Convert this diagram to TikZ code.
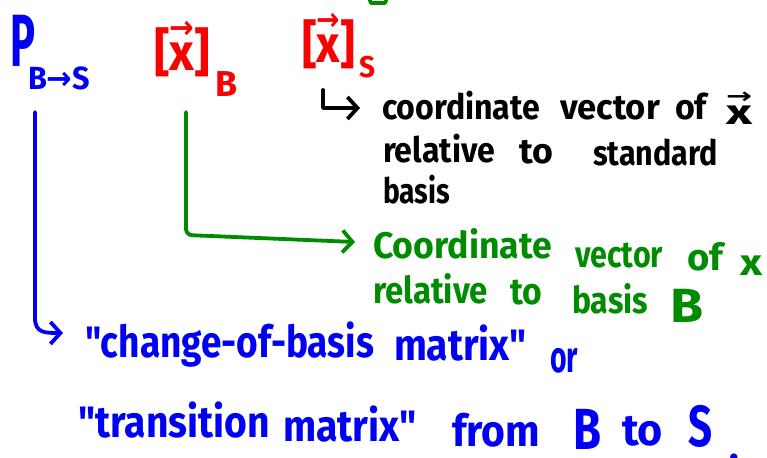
\documentclass[tikz,border=0pt]{standalone}
\usepackage{fontspec}
\newfontfamily\ink{Fira Sans}
\newfontfamily\symfont{DejaVu Sans}
\usepackage{graphicx}
\usetikzlibrary{arrows.meta}
\definecolor{pblue}{RGB}{0,0,245}
\definecolor{pred}{RGB}{250,0,0}
\definecolor{pgreen}{RGB}{0,140,0}
\newsavebox\xbox
\newcommand{\vx}{\sbox\xbox{x}\rlap{\raisebox{0.62em}{\resizebox{\wd\xbox}{!}{\symfont\bfseries →}}}\usebox\xbox}
\newcommand{\fitto}[2]{\resizebox{#1pt}{\height}{#2}}
\newcommand{\dq}{\symbol{34}}
% \word{name}{style}{size}{x,y}{width}{text}
\newcommand{\word}[6]{\node[txt,#2,font=\ink\bfseries\fontsize{#3}{#3}\selectfont] (#1) at (#4) {\fitto{#5}{#6}};}
\begin{document}
\begin{tikzpicture}[x=1pt,y=-1pt,
  txt/.style={anchor=base west,inner sep=0pt,outer sep=0pt},
  blueink/.style={text=pblue},
  redink/.style={text=pred},
  greenink/.style={text=pgreen},
  blackink/.style={text=black},
  pen/.style={line width=3.8pt,line cap=round,line join=round},
  barb/.style={-{Straight Barb[length=10pt,width=22pt]}}]
\fill[white] (0,0) rectangle (767,457);
\useasboundingbox (0,0) rectangle (767,457);

% fragment of green writing at the top edge
\draw[pen,pgreen] (369,-2) -- (371,3) -- (385,3) -- (387,-2);

% blue P_{B->S}
\word{P}{blueink}{74}{10,67}{25}{P}
\word{Psub}{blueink}{32}{28,90}{62}{B{\symfont\bfseries →}S}

% red coordinate vectors
\word{xB}{redink}{52}{154,71}{56}{[\vx]}
\word{xBsub}{redink}{36}{215,97}{22}{B}
\word{xS}{redink}{52}{302,63}{53}{[\vx]}
\word{xSsub}{redink}{30}{359,78}{16}{S}

% black note
\word{k1a}{blackink}{35}{382,120}{158}{coordinate}
\word{k1b}{blackink}{35}{560,120}{100}{vector}
\word{k1c}{blackink}{35}{675,120}{32}{of}
\word{k1d}{blackink}{35}{726,125}{26}{\vx}
\word{k2a}{blackink}{35}{383,163}{112}{relative}
\word{k2b}{blackink}{35}{519,164}{34}{to}
\word{k2c}{blackink}{35}{593,166}{125}{standard}
\word{k3a}{blackink}{35}{383,203}{67}{basis}

% green note
\word{g1a}{greenink}{37}{373,258}{179}{Coordinate}
\word{g1b}{greenink}{37}{575,267}{88}{vector}
\word{g1c}{greenink}{37}{687,270}{36}{of}
\word{g1d}{greenink}{37}{740,275}{22}{x}
\word{g2a}{greenink}{37}{373,303}{115}{relative}
\word{g2b}{greenink}{37}{510,304}{32}{to}
\word{g2c}{greenink}{37}{572,313}{76}{basis}
\word{g2d}{greenink}{48}{670,322}{33}{B}

% blue note
\word{b1a}{blueink}{44}{85,357}{289}{\dq change-of-basis}
\word{b1b}{blueink}{44}{394,360}{133}{matrix\dq}
\word{b1c}{blueink}{44}{550,372}{28}{or}
\word{b2a}{blueink}{44}{78,437}{192}{\dq transition}
\word{b2b}{blueink}{44}{283,441}{134}{matrix\dq}
\word{b2c}{blueink}{44}{452,446}{88}{from}
\word{b2d}{blueink}{58}{573,449}{28}{B}
\word{b2e}{blueink}{44}{622,445}{41}{to}
\word{b2f}{blueink}{58}{688,446}{24}{S}
\node[txt,blueink,font=\ink\bfseries\fontsize{40}{40}\selectfont] (b2g) at (729,460) {.};

% connectors
\coordinate (kS) at (323,90);
\coordinate (kE) at (360,108);
\draw[pen,black,barb] (kS) |- (kE);

\coordinate (gS) at (186,112);
\coordinate (gE) at (355,242);
\draw[pen,pgreen,barb,rounded corners=6pt] (gS) -- (186,235) -- (gE);

\coordinate (bS) at (35,112);
\coordinate (bE) at (63,333);
\draw[pen,pblue,barb] (bS) -- (35,318) .. controls (35,333) and (45,333) .. (bE);
\end{tikzpicture}
\end{document}
